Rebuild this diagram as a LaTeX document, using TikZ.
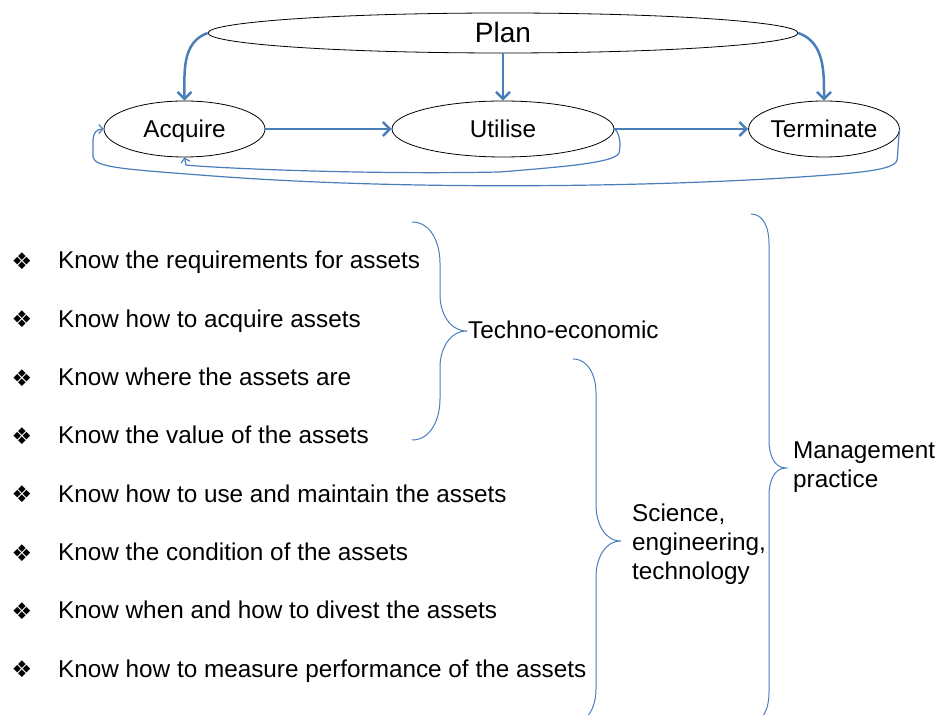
\documentclass[tikz,border=0pt]{standalone}
\usepackage{fontspec}
\setmainfont{Liberation Sans}
\newfontfamily\dingfont{DejaVu Sans}
\usepackage{tikz}
\usetikzlibrary{shapes}
\usetikzlibrary{arrows.meta}

\definecolor{lineblue}{RGB}{74,126,187}

\begin{document}
\begin{tikzpicture}[x=1pt,y=1pt,
    every node/.style={font=\fontsize{24.3}{29}\selectfont,inner sep=0pt},
    phase/.style={ellipse,draw=black,line width=0.8pt,fill=white,minimum height=56pt,
      text height=17.4pt,text depth=0pt},
    flow/.style={draw=lineblue,line width=2.5pt,-{Straight Barb[length=7pt,width=14pt]}},
    feedback/.style={draw=lineblue,line width=1.2pt,-{Straight Barb[length=4pt,width=9pt]}},
    curly/.style={draw=lineblue,line width=1pt},
    item/.style={anchor=base west},
    bullet/.style={font=\dingfont\fontsize{23}{23}\selectfont}]
      \useasboundingbox (0,0) rectangle (938,715);

      % life cycle
      \node[phase,minimum width=590pt,minimum height=40pt,font=\fontsize{28}{32}\selectfont,
        text height=20pt] (plan) at (503,682) {Plan};
      \node[phase,minimum width=161pt] (acquire) at (184.5,586) {Acquire};
      \node[phase,minimum width=222pt] (utilise) at (503,586) {Utilise};
      \node[phase,minimum width=144pt] (terminate) at (824,586) {Terminate};

      \draw[flow] (plan.west) to[out=200,in=90] (acquire.north);
      \draw[flow] (plan.south) -- (utilise.north);
      \draw[flow] (plan.east) to[out=-20,in=90] (terminate.north);
      \draw[flow] (acquire.east) -- (utilise.west);
      \draw[flow] (utilise.east) -- (terminate.west);

      % loops back to acquire
      \draw[feedback] (utilise.east) .. controls (620,582) and (621,570) .. (619,562)
            .. controls (615,552) and (560,548) .. (500,543)
            .. controls (350,540) and (200,548) .. (186,550) -- (acquire.south);
      \draw[feedback] (terminate.east) .. controls (898,575) and (898,560) .. (897,555)
            .. controls (895,545) and (860,542) .. (800,538)
            .. controls (650,528) and (400,524) .. (200,540)
            .. controls (120,546) and (95,548) .. (93,558) -- (93,575)
            .. controls (93,582) and (97,586) .. (acquire.west);

      % what to know
      \node[bullet] (b1) at (22,454) {❖};
      \node[bullet] (b2) at (22,395.7) {❖};
      \node[bullet] (b3) at (22,337.3) {❖};
      \node[bullet] (b4) at (22,279) {❖};
      \node[bullet] (b5) at (22,220.7) {❖};
      \node[bullet] (b6) at (22,162.3) {❖};
      \node[bullet] (b7) at (22,104) {❖};
      \node[bullet] (b8) at (22,45.7) {❖};

      \node[item] (k1) at (58,446) {Know the requirements for assets};
      \node[item] (k2) at (58,387.7) {Know how to acquire assets};
      \node[item] (k3) at (58,329.3) {Know where the assets are};
      \node[item] (k4) at (58,271) {Know the value of the assets};
      \node[item] (k5) at (58,212.7) {Know how to use and maintain the assets};
      \node[item] (k6) at (58,154.3) {Know the condition of the assets};
      \node[item] (k7) at (58,96) {Know when and how to divest the assets};
      \node[item] (k8) at (58,37.7) {Know how to measure performance of the assets};

      % groupings
      \draw[curly] (412,493) to[out=0,in=90] (440,452) -- (440,420)
            to[out=-90,in=180] (467,384) to[out=180,in=90] (440,348) -- (440,316)
            to[out=-90,in=0] (412,275);
      \draw[curly] (573,356) to[out=0,in=90] (596,322) -- (596,210)
            to[out=-90,in=180] (621,174) to[out=180,in=90] (596,138) -- (596,26)
            to[out=-90,in=0] (573,-8);
      \draw[curly] (751,501) to[out=0,in=90] (769,472) -- (769,274)
            to[out=-90,in=180] (786,247) to[out=180,in=90] (769,220) -- (769,22)
            to[out=-90,in=0] (751,-7);

      \node[item] (techno) at (468,376) {Techno-economic};
      \node[item,align=left] (science) at (632,135) {Science,\\engineering,\\technology};
      \node[item,align=left] (mgmt) at (793,227) {Management\\practice};
\end{tikzpicture}
\end{document}
